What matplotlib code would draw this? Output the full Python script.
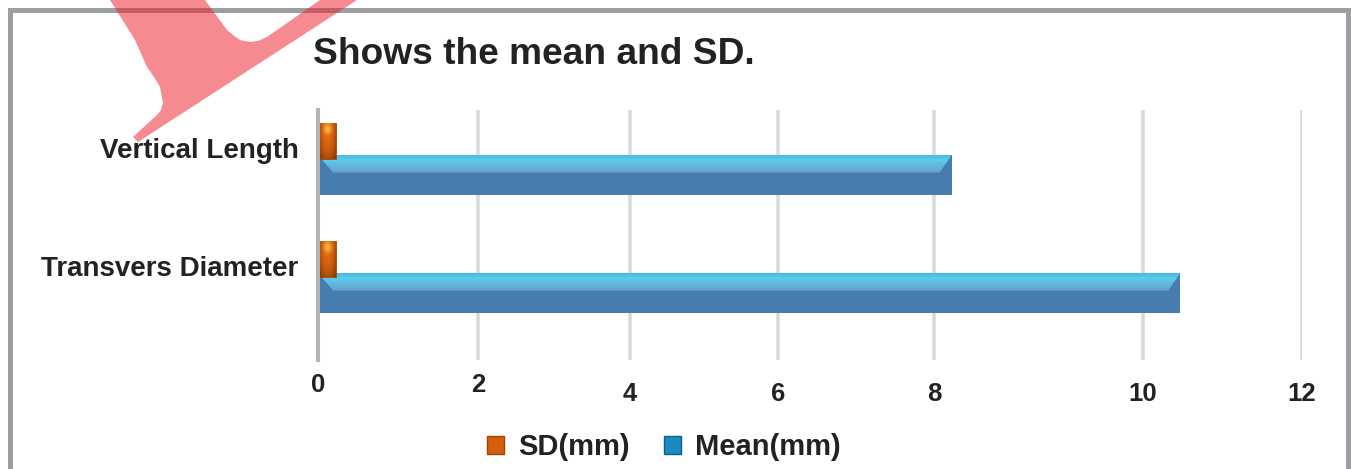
import numpy as np
import matplotlib
matplotlib.use("Agg")
import matplotlib.pyplot as plt
from matplotlib.patches import Polygon, Rectangle, Patch

plt.rcParams['font.family'] = ['Liberation Sans', 'DejaVu Sans']
plt.rcParams['font.weight'] = 'bold'

# data
categories = ["Transvers Diameter", "Vertical Length"]
mean_mm = [10.47, 8.17]
sd_mm = [0.23, 0.23]
tick_vals = [0, 2, 4, 6, 8, 10, 12]
# the source axis is not evenly spaced, pixel spot of each tick
tick_pix = [318, 478, 630, 778, 934, 1143, 1302]

W, H = 1351, 469
fig = plt.figure(figsize=(W / 100, H / 100), dpi=100)

def fwd(v):
    return np.interp(v, tick_vals, tick_pix)

def inv(p):
    return np.interp(p, tick_pix, tick_vals)

ax = fig.add_axes([318 / W, (H - 360) / H, (1302 - 318) / W, 250 / H])
ax.set_xscale('function', functions=(fwd, inv))
ax.set_xlim(0, 12)
ax.set_ylim(-0.703, 1.415)

ypos = np.arange(len(categories))
sd_h = 0.305
mean_h = 0.34

# mean bars (front face)
ax.barh(ypos - sd_h, mean_mm, height=mean_h, align='edge', color='#467cae', zorder=3)
# SD bars
sd_bars = ax.barh(ypos, sd_mm, height=sd_h, align='edge', color='#d9620f',
                  edgecolor='#9c4408', linewidth=0.6, zorder=4)

fig.canvas.draw()
to_data = ax.transData.inverted()
to_disp = ax.transData

# bevelled top face of the mean bars, gradient strips clipped to a trapezoid
top_cols = np.array([[0x47, 0xb8, 0xe8], [0x5c, 0xcb, 0xeb], [0x6a, 0xa0, 0xc9]]) / 255
bev = 0.15
for y, m in zip(ypos, mean_mm):
    top = y - sd_h + mean_h
    low = top - bev
    p0 = to_disp.transform((0, top))
    p1 = to_disp.transform((m, top))
    xl = to_data.transform((p0[0] + 15, 0))[0]
    xr = to_data.transform((p1[0] - 12, 0))[0]
    poly = Polygon([(0, top), (m, top), (xr, low), (xl, low)], closed=True,
                   facecolor='none', edgecolor='none', zorder=3.5)
    ax.add_patch(poly)
    n = 24
    for k in range(n):
        f = k / (n - 1)
        if f < 0.3:
            c = top_cols[0] + (top_cols[1] - top_cols[0]) * f / 0.3
        else:
            c = top_cols[1] + (top_cols[2] - top_cols[1]) * (f - 0.3) / 0.7
        s = ax.barh(top - bev * (k + 1) / n, m, height=bev / n * 1.05, align='edge',
                    color=c, zorder=3.5)
        s[0].set_clip_path(poly)

# orange glow inside the SD bars
gx, gy = np.meshgrid(np.linspace(0, 1, 30), np.linspace(0, 1, 60))
dark = np.array([0.62, 0.27, 0.03])
orng = np.array([0.90, 0.41, 0.06])
yel = np.array([0.98, 0.72, 0.28])
side = 1 - (2 * np.abs(gx - 0.5)) ** 2
img = dark + (orng - dark) * side[..., None]
img = img * (1 - 0.25 * gy[..., None] ** 3)
glow = np.exp(-((gx - 0.5) ** 2 / 0.05 + (gy - 0.18) ** 2 / 0.02))
img = img + (yel - img) * glow[..., None]
for b in sd_bars:
    im = ax.imshow(img, extent=[b.get_x(), b.get_x() + b.get_width(), b.get_y(), b.get_y() + b.get_height()],
                   origin='upper', aspect='auto', zorder=4.5, interpolation='bilinear')
    im.set_clip_path(b)
ax.set_aspect('auto')
ax.set_xlim(0, 12)
ax.set_ylim(-0.703, 1.415)

# axes look
for sp in ['top', 'right', 'bottom']:
    ax.spines[sp].set_visible(False)
ax.spines['left'].set_color('#b4b4b6')
ax.spines['left'].set_linewidth(2.9)
ax.spines['left'].set_zorder(5)
ax.set_xticks(tick_vals)
ax.set_xticklabels([str(t) for t in tick_vals], fontsize=18.5, fontweight='bold', color='#222222')
ax.tick_params(axis='x', length=0)
pads = [9, 9, 16, 16, 16, 16, 16]
for t, p in zip(ax.xaxis.get_major_ticks(), pads):
    t.set_pad(p)
ax.grid(axis='x', color='#d9d9d9', linewidth=2.6, zorder=0)
ax.set_axisbelow(True)
ax.set_yticks(ypos + 0.09)
ax.set_yticklabels(categories, fontsize=20, fontweight='bold', color='#222222')
ax.tick_params(axis='y', length=0, pad=14)

# title
fig.text(313 / W, 1 - 55 / H, "Shows the mean and SD.", fontsize=26.7, fontweight='bold',
         color='#222222', ha='left', va='center')

# legend
handles = [Patch(facecolor='#d4600f', edgecolor='#9c4408', label='SD(mm)'),
           Patch(facecolor='#1a8ac2', edgecolor='#0d5f8a', label='Mean(mm)')]
fig.legend(handles=handles, loc='center', bbox_to_anchor=(664 / W, 1 - 447 / H), ncol=2,
           frameon=False, prop={'size': 21, 'weight': 'bold'}, handlelength=0.58,
           handleheight=0.58, handletextpad=0.48, columnspacing=1.2, labelcolor='#222222')

# grey frame round the chart
fig.patches.append(Rectangle((10 / W, -0.1), (1348 - 10) / W, 1.1 - 10 / H,
                             transform=fig.transFigure, fill=False, edgecolor='#9d9ea2',
                             linewidth=3.6, zorder=1))

# red watermark swoosh at the top left
mark = [(110, -5), (110, 0), (135, 40), (147, 67), (156, 80), (160, 87), (163, 103),
        (161, 110), (157, 115), (133, 137), (138, 142), (357, 0), (357, -5),
        (320, -5), (320, 0), (267, 37), (258, 41), (250, 42), (240, 40), (233, 35),
        (227, 30), (205, 0), (205, -5)]
fig.patches.append(Polygon([(x / W, 1 - y / H) for x, y in mark], closed=True,
                           transform=fig.transFigure, facecolor=(0.93, 0.13, 0.17),
                           edgecolor='none', alpha=0.52, zorder=10))

fig.savefig('out.png', dpi=100)
